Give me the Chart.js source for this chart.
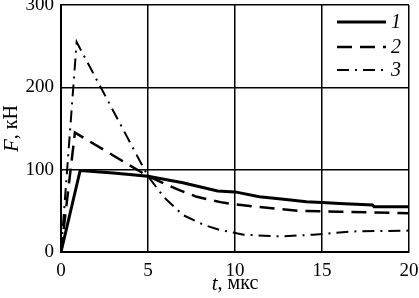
<!DOCTYPE html>
<html>
<head>
<meta charset="utf-8">
<script src="https://cdn.jsdelivr.net/npm/chart.js@4.4.1/dist/chart.umd.min.js"></script>
<style>
  html, body { margin: 0; padding: 0; background: #fff; }
  #wrap { width: 419px; height: 298px; position: relative; }
</style>
</head>
<body>
<div id="wrap"><canvas id="c"></canvas></div>
<script>
// curve 1 (solid)
const t1 = [0, 1.1, 3, 5, 7, 9, 10, 11.4, 12.8, 14.1, 15, 16, 17.9, 18, 20];
const f1 = [0, 99, 96, 92, 84, 74, 73, 67, 64, 61, 60, 59, 57, 55, 55];
// curve 2 (dashed)
const t2 = [0, 0.8, 5, 6.7, 7.8, 9.3, 10, 11.2, 13.7, 16, 20];
const f2 = [0, 145, 92, 76, 67, 60, 58, 55, 50, 49, 47];
// curve 3 (dash-dot)
const t3 = [0, 0.9, 5, 5.9, 7, 8.2, 9.1, 10.5, 12.6, 14.5, 16.8, 20];
const f3 = [0, 255, 92, 67, 45, 33, 27, 21, 19, 21, 25, 26];

const seriesLabels = ['1', '2', '3'];
const xTicks = [0, 5, 10, 15, 20];
const yTicks = [0, 100, 200, 300];

const SERIF = '"Liberation Serif", "DejaVu Serif", serif';
const toPts = (xs, ys) => xs.map((x, i) => ({ x, y: ys[i] }));

const styles = [
  { borderWidth: 3, borderDash: [] },
  { borderWidth: 2.5, borderDash: [15, 8] },
  { borderWidth: 2, borderDash: [12, 6, 2, 6] },
];

// axis titles with italic variable + upright units, and line legend in the upper right cell
const decor = {
  id: 'decor',
  afterDraw(chart) {
    const { ctx, chartArea: a } = chart;
    ctx.save();
    ctx.fillStyle = '#000';
    ctx.textBaseline = 'middle';

    // x title
    const xi = 'italic 21px ' + SERIF, xr = '20px ' + SERIF;
    ctx.font = xi; const wT = ctx.measureText('t').width;
    ctx.font = xr; const wR = ctx.measureText(', мкс').width;
    let x0 = (a.left + a.right) / 2 - (wT + wR) / 2;
    ctx.textAlign = 'left';
    ctx.font = xi; ctx.fillText('t', x0, 284);
    ctx.font = xr; ctx.fillText(', мкс', x0 + wT, 284);

    // y title
    ctx.save();
    ctx.translate(12, (a.top + a.bottom) / 2);
    ctx.rotate(-Math.PI / 2);
    ctx.font = xi; const wF = ctx.measureText('F').width;
    ctx.font = xr; const wK = ctx.measureText(', кН').width;
    x0 = -(wF + wK) / 2;
    ctx.font = xi; ctx.fillText('F', x0, 0);
    ctx.font = xr; ctx.fillText(', кН', x0 + wF, 0);
    ctx.restore();

    // legend
    const rows = [22, 47, 70];
    chart.data.datasets.forEach((ds, i) => {
      ctx.save();
      ctx.strokeStyle = '#000';
      ctx.lineWidth = ds.borderWidth;
      ctx.setLineDash(ds.borderDash || []);
      ctx.beginPath();
      ctx.moveTo(337, rows[i]);
      ctx.lineTo(386, rows[i]);
      ctx.stroke();
      ctx.restore();
      ctx.font = 'italic 20px ' + SERIF;
      ctx.textAlign = 'left';
      ctx.fillText(ds.label, 391, rows[i] + 1);
    });
    ctx.restore();
  }
};

new Chart(document.getElementById('c'), {
  type: 'line',
  data: {
    datasets: [
      { label: seriesLabels[0], data: toPts(t1, f1), ...styles[0] },
      { label: seriesLabels[1], data: toPts(t2, f2), ...styles[1] },
      { label: seriesLabels[2], data: toPts(t3, f3), ...styles[2] },
    ].map((d) => ({ ...d, borderColor: '#000', backgroundColor: '#000', pointRadius: 0, tension: 0, fill: false }))
  },
  options: {
    responsive: true,
    maintainAspectRatio: false,
    animation: false,
    layout: { padding: { top: 5, right: 10, left: 0, bottom: 0 } },
    plugins: { legend: { display: false }, tooltip: { enabled: false } },
    scales: {
      x: {
        type: 'linear', min: 0, max: 20,
        afterBuildTicks: (s) => { s.ticks = xTicks.map((v) => ({ value: v })); },
        afterFit: (s) => { s.height = 46; s.paddingLeft = 0; s.paddingRight = 0; },
        grid: { color: '#000', lineWidth: 1.5, drawTicks: false },
        border: { color: '#000', width: 2 },
        ticks: { color: '#000', padding: 8, maxRotation: 0, font: { family: SERIF, size: 19 } }
      },
      y: {
        type: 'linear', min: 0, max: 300,
        afterBuildTicks: (s) => { s.ticks = yTicks.map((v) => ({ value: v })); },
        afterFit: (s) => { s.width = 61; s.paddingTop = 0; s.paddingBottom = 0; },
        grid: { color: '#000', lineWidth: 1.5, drawTicks: false },
        border: { color: '#000', width: 2 },
        ticks: { color: '#000', padding: 7, font: { family: SERIF, size: 19 } }
      }
    }
  },
  plugins: [decor]
});
</script>
</body>
</html>
